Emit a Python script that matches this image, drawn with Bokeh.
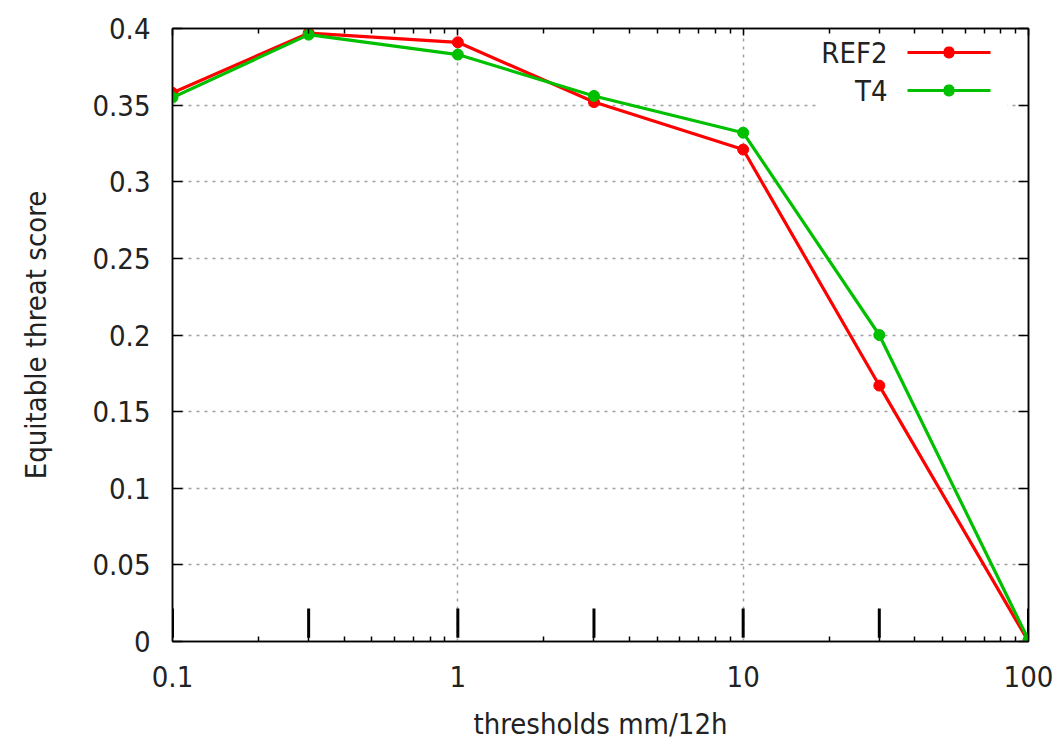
from bokeh.plotting import figure
from bokeh.models import (FixedTicker, LinearAxis, LogAxis, Label, BoxAnnotation, Range1d)
from bokeh.embed import file_html
from bokeh.resources import INLINE

# ---- data ----
thresholds = [0.1, 0.3, 1, 3, 10, 30, 100]
ref2 = [0.358, 0.397, 0.391, 0.352, 0.321, 0.167, 0.000]
t4 = [0.355, 0.396, 0.383, 0.356, 0.332, 0.200, 0.001]
series_names = ["REF2", "T4"]
series_colors = ["#ff0000", "#00c000"]
x_tick_values = [0.1, 1, 10, 100]
x_tick_labels = ["0.1", "1", "10", "100"]
x_minor_values = [m * d for d in (0.1, 1, 10) for m in range(2, 10)]
y_tick_values = [0, 0.05, 0.1, 0.15, 0.2, 0.25, 0.3, 0.35, 0.4]
y_tick_labels = ["0", "0.05", "0.1", "0.15", "0.2", "0.25", "0.3", "0.35", "0.4"]
x_title = "thresholds mm/12h"
y_title = "Equitable threat score"
bar_low, bar_high = 0.0025, 0.0215

FONT = "DejaVu Sans Condensed"
FS = "29px"

p = figure(width=1059, height=747, x_axis_type="log",
           x_range=Range1d(0.1, 100), y_range=Range1d(0, 0.4),
           output_backend="svg", toolbar_location=None,
           min_border_left=172, min_border_right=31,
           min_border_top=28, min_border_bottom=106)
p.background_fill_color = "white"
p.border_fill_color = "white"
p.outline_line_color = "black"
p.outline_line_width = 1.5

# grids
p.xgrid.ticker = FixedTicker(ticks=[1, 10])
p.ygrid.ticker = FixedTicker(ticks=y_tick_values[1:-1])
for g in (p.xgrid, p.ygrid):
    g.grid_line_color = "#a0a0a0"
    g.grid_line_dash = "3 5"
    g.grid_line_width = 1.5

# bottom axis
xa = p.xaxis[0]
xa.ticker = FixedTicker(ticks=x_tick_values, minor_ticks=x_minor_values)
xa.major_label_overrides = {v: l for v, l in zip(x_tick_values, x_tick_labels)}
xa.axis_label = x_title

# left axis
ya = p.yaxis[0]
ya.ticker = FixedTicker(ticks=y_tick_values)
ya.major_label_overrides = {v: l for v, l in zip(y_tick_values, y_tick_labels)}
ya.axis_label = y_title

for ax in (xa, ya):
    ax.major_label_text_font = FONT
    ax.major_label_text_font_size = FS
    ax.major_label_text_color = "#222222"
    ax.axis_label_text_font = FONT
    ax.axis_label_text_font_size = FS
    ax.axis_label_text_font_style = "normal"
    ax.axis_label_text_color = "#222222"
    ax.axis_line_color = "black"
    ax.axis_line_width = 1.5
    ax.major_tick_line_color = "black"
    ax.minor_tick_line_color = "black"
    ax.major_tick_line_width = 1.5
    ax.minor_tick_line_width = 1.5
    ax.major_tick_out = 0
    ax.minor_tick_out = 0

xa.major_tick_in = 0
xa.minor_tick_in = 5
xa.major_label_standoff = 24
xa.axis_label_standoff = 17
ya.major_tick_in = 10
ya.minor_tick_line_color = None
ya.major_label_standoff = 22
ya.axis_label_standoff = 36

# top and right axes (ticks only)
top = LogAxis(ticker=FixedTicker(ticks=x_tick_values, minor_ticks=x_minor_values))
top.major_label_overrides = {v: "" for v in x_tick_values}
top.major_label_text_color = None
top.major_tick_in = 7
top.major_tick_out = 0
top.minor_tick_in = 5
top.minor_tick_out = 0
top.major_tick_line_width = 1.5
top.minor_tick_line_width = 1.5
top.axis_line_width = 1.5
top.major_label_standoff = 0
p.add_layout(top, "above")

right = LinearAxis(ticker=FixedTicker(ticks=y_tick_values))
right.major_label_overrides = {v: "" for v in y_tick_values}
right.major_label_text_color = None
right.major_tick_in = 10
right.major_tick_out = 0
right.minor_tick_line_color = None
right.major_tick_line_width = 1.5
right.axis_line_width = 1.5
right.major_label_standoff = 0
p.add_layout(right, "right")

# threshold bars
p.segment(x0=thresholds, x1=thresholds, y0=[bar_low] * len(thresholds),
          y1=[bar_high] * len(thresholds), line_color="black", line_width=3)

# series
for name, vals, col in zip(series_names, [ref2, t4], series_colors):
    p.line(thresholds, vals, line_color=col, line_width=3.2)
    p.scatter(thresholds, vals, marker="circle", size=11, fill_color=col, line_color=col)

# manual gnuplot-style legend (label left of sample); screen units relative to frame, y up
p.add_layout(BoxAnnotation(left=645, right=835, top=607, bottom=530,
                           left_units="screen", right_units="screen",
                           top_units="screen", bottom_units="screen",
                           fill_color="white", fill_alpha=1.0, line_color=None))
legend_rows = [589, 551]
for name, col, sy in zip(series_names, series_colors, legend_rows):
    p.add_layout(Label(x=715, y=sy, x_units="screen", y_units="screen", text=name,
                       text_align="right", text_baseline="middle",
                       text_font=FONT, text_font_size=FS, text_color="#222222"))
    p.add_layout(BoxAnnotation(left=735, right=818, bottom=sy - 1.6, top=sy + 1.6,
                               left_units="screen", right_units="screen",
                               top_units="screen", bottom_units="screen",
                               fill_color=col, fill_alpha=1.0, line_color=None))
    p.add_layout(BoxAnnotation(left=771, right=782, bottom=sy - 6, top=sy + 6,
                               left_units="screen", right_units="screen",
                               top_units="screen", bottom_units="screen",
                               fill_color=col, fill_alpha=1.0, line_color=None,
                               border_radius=5))

open("out.html", "w").write(file_html(p, INLINE))
